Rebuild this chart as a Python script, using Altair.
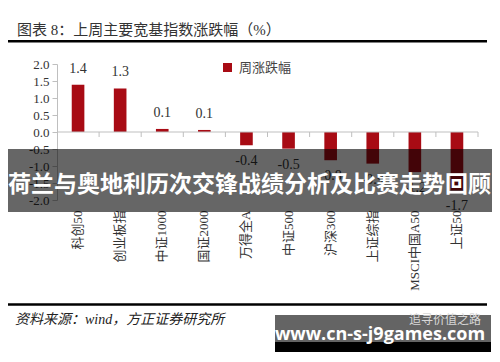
import altair as alt
import pandas as pd

categories = ["科创50", "创业板指", "中证1000", "国证2000", "万得全A",
              "中证500", "沪深300", "上证综指", "MSCI中国A50", "上证50"]
values = [1.39, 1.28, 0.09, 0.06, -0.39, -0.49, -0.83, -0.93, -1.18, -1.72]
value_labels = ["1.4", "1.3", "0.1", "0.1", "-0.4", "-0.5", "-0.8", "-0.9", "-1.2", "-1.7"]
series_name = "周涨跌幅"
y_ticks = [-2.0, -1.5, -1.0, -0.5, 0.0, 0.5, 1.0, 1.5, 2.0]

title_text = "图表 8：上周主要宽基指数涨跌幅（%）"
source_text = "资料来源：wind，方正证券研究所"
banner_text = "荷兰与奥地利历次交锋战绩分析及比赛走势回顾"
watermark_text = "www.cn-s-j9games.com"
watermark_small = "追寻价值之路"

SERIF = "Liberation Serif, Noto Sans CJK SC"
SANS = "Noto Sans CJK SC"
GREY = "#bfbfbf"
RED = "#a80b14"

df = pd.DataFrame({"指数": categories, "涨跌幅": values, "标签": value_labels,
                   "系列": series_name})
one = pd.DataFrame({"k": [0]})

x_axis = alt.Axis(orient="bottom", labelAngle=-90, domain=False, ticks=False,
                  labelPadding=10, labelFont=SERIF, labelFontSize=13,
                  labelColor="#333333", labelOverlap=False)
x_scale = alt.Scale(paddingInner=0.7, paddingOuter=0.35)
x_main = alt.X("指数:N", sort=categories, title=None, scale=x_scale, axis=x_axis)

y_axis = alt.Axis(values=y_ticks, format=".1f", grid=False, domainColor=GREY,
                  tickColor=GREY, tickSize=5, labelFont=SERIF, labelFontSize=13,
                  labelColor="#333333", labelPadding=3, labelOverlap=False,
                  labelExpr="replace(datum.label, '\u2212', '-')")
y_scale = alt.Scale(domain=[-2, 2], nice=False, zero=False)
y_enc = alt.Y("涨跌幅:Q", title=None, scale=y_scale, axis=y_axis)

bars = alt.Chart(df).mark_bar().encode(
    x=x_main,
    y=y_enc,
    color=alt.Color("系列:N", scale=alt.Scale(range=[RED]),
                    legend=alt.Legend(orient="none", legendX=164, legendY=-3,
                                      title=None, symbolType="square",
                                      symbolSize=81, labelFontSize=13,
                                      labelFont=SERIF, labelColor="#444444",
                                      labelOffset=5, padding=0)),
)

zero_line = alt.Chart(one).mark_rule(color=GREY, strokeWidth=1).encode(
    x=alt.value(0), x2=alt.value(421), y=alt.value(68))

zero_ticks = alt.Chart(df).mark_rule(color=GREY, strokeWidth=1,
                                     xOffset=14.735).encode(
    x=alt.X("指数:N", sort=categories, bandPosition=1, title=None,
            scale=x_scale, axis=x_axis),
    y=alt.value(68), y2=alt.value(73))

pos_text = alt.Chart(df).transform_filter("datum['涨跌幅'] >= 0").mark_text(
    baseline="bottom", dy=-9, font=SERIF, fontSize=14, color="#333333"
).encode(x=x_main, y=y_enc, text="标签:N")

neg_text = alt.Chart(df).transform_filter("datum['涨跌幅'] < 0").mark_text(
    baseline="top", dy=9, font=SERIF, fontSize=14, color="#333333"
).encode(x=x_main, y=y_enc, text="标签:N")

base1 = alt.Chart(one)
title_mark = base1.mark_text(align="left", baseline="middle", font=SERIF,
                             fontSize=15, color="#333333").encode(
    x=alt.value(-40), y=alt.value(-34), text=alt.value(title_text))
title_rule = base1.mark_rule(color="#000000", strokeWidth=2.5).encode(
    x=alt.value(-51), x2=alt.value(430), y=alt.value(-22.7))
source_rule = base1.mark_rule(color="#000000", strokeWidth=2.5).encode(
    x=alt.value(-51), x2=alt.value(430), y=alt.value(240.5))
source_mark = base1.mark_text(align="left", baseline="middle", font=SERIF,
                              fontSize=14, fontStyle="italic",
                              color="#222222").encode(
    x=alt.value(-42), y=alt.value(256), text=alt.value(source_text))

banner_rect = base1.mark_rect(color="#000000", opacity=0.6).encode(
    x=alt.value(-49), x2=alt.value(435), y=alt.value(85), y2=alt.value(148))
banner_mark = base1.mark_text(align="center", baseline="middle", font=SANS,
                              fontSize=23, fontWeight="bold",
                              color="#ffffff").encode(
    x=alt.value(192.5), y=alt.value(121), text=alt.value(banner_text))

wm_rect1 = base1.mark_rect(color="#646464").encode(
    x=alt.value(218), x2=alt.value(434), y=alt.value(251), y2=alt.value(278))
wm_rect2 = base1.mark_rect(color="#000000").encode(
    x=alt.value(218), x2=alt.value(434), y=alt.value(278), y2=alt.value(291))
wm_small = base1.mark_text(align="center", baseline="middle", font=SANS,
                           fontSize=12, color="#d8d8d8").encode(
    x=alt.value(388), y=alt.value(256), text=alt.value(watermark_small))
wm_text = base1.mark_text(align="center", baseline="middle",
                          font="Open Sans", fontSize=18, fontWeight="bold",
                          color="#ffffff").encode(
    x=alt.value(323), y=alt.value(271), text=alt.value(watermark_text))

chart = alt.layer(
    bars, zero_line, zero_ticks, pos_text, neg_text,
    title_mark, title_rule, source_rule, source_mark,
    banner_rect, banner_mark, wm_rect1, wm_rect2, wm_small, wm_text,
).properties(
    width=421, height=136,
    padding={"left": 49, "top": 56, "right": 14, "bottom": 152},
    autosize=alt.AutoSizeParams(type="none"),
    background="#ffffff",
).configure_view(stroke=None)

chart.save("out.html", embed_options={"renderer": "svg", "actions": False})
